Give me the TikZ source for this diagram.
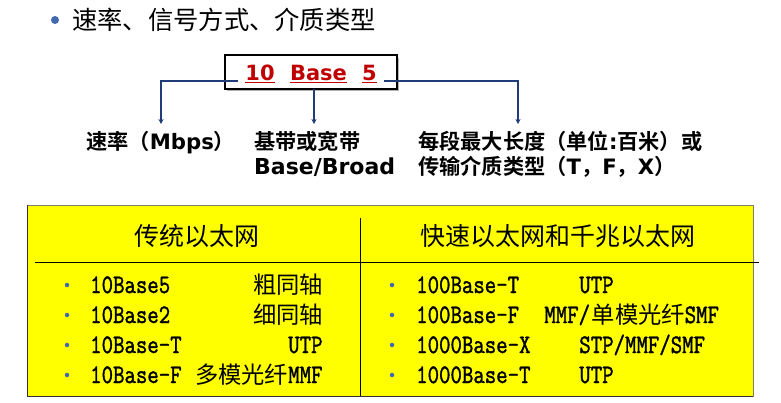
\documentclass[tikz,border=0pt]{standalone}
\usepackage{fontspec}
\usetikzlibrary{arrows.meta}
\newfontfamily\cjk{Noto Sans CJK SC}
\newfontfamily\cjkb{Noto Sans CJK SC Bold}
\newfontfamily\latb{DejaVu Sans Bold}
\newfontfamily\codefont[FakeBold=1.6]{Latin Modern Mono}
\newcommand{\code}[1]{\scalebox{1}[1.2]{\codefont #1}}
\definecolor{linkblue}{HTML}{1F3C78}
\definecolor{dotblue}{HTML}{4169B0}
\definecolor{codered}{HTML}{C00000}
\definecolor{tabyellow}{HTML}{FFFF00}
\definecolor{tabedge}{HTML}{7F7F5F}
\tikzset{
  link/.style={draw=linkblue, line width=1.6pt, -{Stealth[length=5pt,width=5pt]}},
  label/.style={inner sep=0pt, anchor=base west, font=\fontsize{21.2}{24}\selectfont},
  mono/.style={inner sep=0pt, anchor=base west, font=\fontsize{22.2}{24}\selectfont},
  hz/.style={inner sep=0pt, anchor=base west, font=\fontsize{23.3}{24}\cjk},
  rowdot/.style={fill=dotblue, draw=none, circle, minimum size=4.5pt, inner sep=0pt},
}
\begin{document}
\begin{tikzpicture}[x=1pt, y=-1pt]
\useasboundingbox (0,0) rectangle (781,403);

% heading line
\node[circle, fill=dotblue, minimum size=8pt, inner sep=0pt] (hdot) at (55,20) {};
\node[anchor=west, inner sep=0pt, font=\fontsize{25.3}{28}\cjk] (title) at (72,20) {速率、信号方式、介质类型};

% framed code
\fill[black!30] (227,58) rectangle (399,91);
\node[draw=black, line width=1.6pt, fill=white, minimum width=172pt, minimum height=34pt, inner sep=0pt] (code) at (311,72) {};
\node[inner sep=0pt, anchor=base, font=\fontsize{21}{24}\latb, text=codered] (ten) at (260,81) {\underline{10}};
\node[inner sep=0pt, anchor=base, font=\fontsize{21}{24}\latb, text=codered] (base) at (318.5,81) {\underline{Base}};
\node[inner sep=0pt, anchor=base, font=\fontsize{21}{24}\latb, text=codered] (five) at (369.5,81) {\underline{5}};

\coordinate (l0) at (238,81);
\coordinate (l1) at (161,81);
\coordinate (l2) at (161,124);
\coordinate (m0) at (314,89);
\coordinate (m1) at (314,124);
\coordinate (r0) at (384,81);
\coordinate (r1) at (518,81);
\coordinate (r2) at (518,124);
\draw[link] (l0) -- (l1) -- (l2);
\draw[link] (m0) -- (m1);
\draw[link] (r0) -- (r1) -- (r2);

% field descriptions
\node[label] (rate) at (86,150) {{\cjkb 速率（}{\latb Mbps}{\cjkb ）}};
\node[label] (band1) at (254,150) {\cjkb 基带或宽带};
\node[label] (band2) at (254,175) {\fontsize{22}{24}\latb Base/Broad};
\node[label] (seg1) at (418,150) {{\cjkb 每段最大长度（单位}{\latb :}{\cjkb 百米）或}};
\node[label] (seg2) at (418,175) {{\cjkb 传输介质类型（}{\latb T}{\cjkb ，}{\latb F}{\cjkb ，}{\latb X}{\cjkb ）}};

% table
\node[fill=tabyellow, draw=none, minimum width=725pt, minimum height=191pt, inner sep=0pt] (tab) at (390.5,301) {};
\draw[tabedge, line width=1.2pt] (tab.north west) -- (tab.north east) -- (tab.south east);
\draw[black!80, line width=1.2pt] (tab.north west) -- (tab.south west) -- (tab.south east);
\coordinate (hl0) at (35,262.5);
\coordinate (hl1) at (759,262.5);
\coordinate (vl0) at (360,218);
\coordinate (vl1) at (360,396);
\draw[black, line width=0.8pt] (hl0) -- (hl1);
\draw[black, line width=0.8pt] (vl0) -- (vl1);

\node[inner sep=0pt, font=\fontsize{25}{28}\cjk] (headL) at (197,236) {传统以太网};
\node[inner sep=0pt, font=\fontsize{25}{28}\cjk] (headR) at (558,236) {快速以太网和千兆以太网};

% bullets of both columns
\foreach \y/\n in {285/a,315/b,345/c,375/d} {
  \node[rowdot] (ld\n) at (67,\y) {};
  \node[rowdot] (rd\n) at (392,\y) {};
}

% left column
\node[mono] (la)  at (90,293)     {\code{10Base5}};
\node[hz]   (laa) at (253.1,293)  {粗同轴};
\node[mono] (lb)  at (90,323)     {\code{10Base2}};
\node[hz]   (lbb) at (253.1,323)  {细同轴};
\node[mono] (lc)  at (90,353)     {\code{10Base-T}};
\node[mono] (lcc) at (288.05,353) {\code{UTP}};
\node[mono] (ld)  at (90,383)     {\code{10Base-F}};
\node[hz]   (ldd) at (194.85,383) {多模光纤};
\node[mono] (lde) at (288.05,383) {\code{MMF}};

% right column
\node[mono] (ra)  at (416,293)    {\code{100Base-T}};
\node[mono] (raa) at (579.1,293)  {\code{UTP}};
\node[mono] (rb)  at (416,323)    {\code{100Base-F}};
\node[mono] (rbb) at (544.15,323) {\code{MMF/}};
\node[hz]   (rbc) at (591.5,323)  {单模光纤};
\node[mono] (rbd) at (684.5,323)  {\code{SMF}};
\node[mono] (rc)  at (416,353)    {\code{1000Base-X}};
\node[mono] (rcc) at (579.1,353)  {\code{STP/MMF/SMF}};
\node[mono] (rd)  at (416,383)    {\code{1000Base-T}};
\node[mono] (rdd) at (579.1,383)  {\code{UTP}};
\end{tikzpicture}
\end{document}
